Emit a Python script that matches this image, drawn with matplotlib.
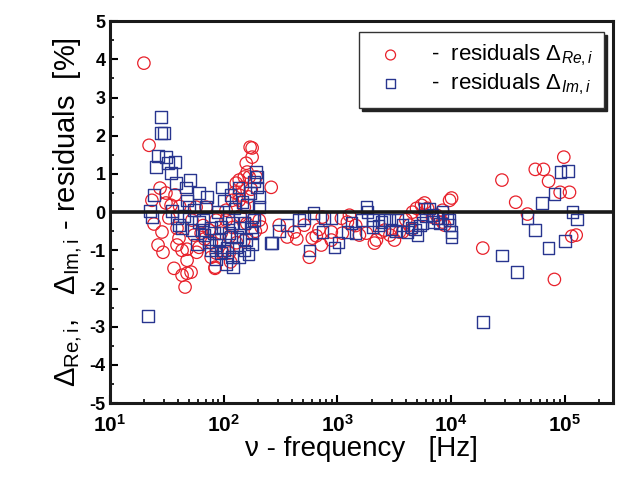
import matplotlib
matplotlib.use("Agg")
import matplotlib.pyplot as plt
from matplotlib.ticker import FixedLocator, MultipleLocator, LogLocator, NullFormatter

plt.rcParams['font.family'] = ['Liberation Sans', 'DejaVu Sans']
plt.rcParams['mathtext.fontset'] = 'custom'
plt.rcParams['mathtext.rm'] = 'Liberation Sans'
plt.rcParams['mathtext.it'] = 'Liberation Sans:italic'
plt.rcParams['mathtext.bf'] = 'Liberation Sans:bold'
plt.rcParams['axes.unicode_minus'] = False

# ---- data: residuals of real part (red circles) ----
freq_re = [19.9, 22.1, 27.6, 23.4, 24.4, 28.7, 26.5, 29.3, 31.1, 37.4, 31.1, 34.5, 38.9, 40.5, 38.9,
           43.1, 47.7, 36.6, 43.1, 47.7, 51.7, 45.8, 47.7, 60.8, 63.4, 55.0, 52.7, 57.3, 70.1, 74.5,
           85.9, 85.9, 77.6, 84.2, 105, 105, 112, 119, 129, 126, 137, 146, 158, 161, 171,
           178, 178, 168, 152, 137, 193, 214, 206, 262, 137, 152, 112, 84,
           66, 95, 120, 140, 150, 165, 175, 185, 190, 160, 130, 115, 98, 78, 68, 58, 33, 41,
           308, 418, 362, 512, 602, 653, 723, 885, 885, 1085, 1277, 1107, 1563, 1801, 2117,
           2443, 2596, 3177, 3517, 3740, 4307, 4580, 4966, 5496, 5847, 6210, 7450, 8414, 9700,
           10100, 7925, 8414, 8770, 6874, 5610, 2206, 567, 738, 1225,
           440, 690, 1450, 2900, 4000, 4500,
           19000, 28000, 37000, 47000, 55000, 65000, 72000, 81000, 91000, 98000, 110000, 115000, 126000]
res_re = [3.90, 1.75, 0.63, 0.31, -0.31, -0.52, -0.86, -1.05, 0.50, 0.45, 0.24, 0.18, -0.42, -0.68, -0.86,
          -1.00, -0.97, -1.47, -1.65, -1.60, -1.57, -1.96, -1.26, -0.92, -0.55, -0.60, -0.21, 0.13, 0.13, -0.47,
          -0.21, -1.07, -1.18, -1.44, -0.21, 0.05, -0.65, 0.31, 0.76, 0.52, 0.45, 0.65, 1.28, 1.05, 1.70,
          1.68, 1.44, 0.92, 0.92, 0.84, 0.92, -0.39, -0.21, 0.65, 0.31, 0.13, -1.07, -1.47,
          -0.35, -0.55, -0.40, -0.10, -0.75, 0.40, 0.60, -0.15, -0.50, -0.30, -0.80, -1.30, -1.05, -0.80, -0.70, -1.05, -0.15, 0.15,
          -0.34, -0.52, -0.65, -0.34, -0.68, -0.62, -0.86, -0.52, -0.73, -0.16, -0.08, -0.55, -0.60, -0.55, -0.81,
          -0.52, -0.47, -0.73, -0.52, -0.52, -0.34, 0.00, 0.10, 0.18, 0.24, 0.10, -0.08, 0.05, 0.31,
          0.37, -0.16, -0.26, -0.34, -0.13, -0.08, -0.73, -1.18, -0.13, -0.26,
          -0.70, -0.45, -0.35, -0.60, -0.20, -0.45,
          -0.94, 0.84, 0.26, -0.05, 1.12, 1.12, 0.81, -1.76, 0.52, 1.44, 0.52, -0.63, -0.60]

# ---- data: residuals of imaginary part (blue squares) ----
freq_im = [21.6, 28.1, 28.1, 29.9, 26.5, 25.4, 31.1, 32.4, 34.5, 37.4, 38.1, 46.7, 50.7, 24.4, 22.5,
           23.4, 35.2, 38.9, 40.5, 43.1, 47.7, 49.7, 60.8, 71.6, 70.1, 52.7, 60.8, 64.7, 77.6, 74.5,
           82.5, 85.9, 77.6, 95.1, 97.1, 101, 91.3, 95.1, 101, 107, 85.9, 112, 119, 116, 119,
           121, 129, 137, 131, 146, 152, 158, 175, 178, 178, 193, 197, 197, 206, 206, 186, 178, 152, 262,
           45, 55, 66, 88, 110, 125, 140, 160, 170, 185, 165, 105, 115, 135, 68, 58,
           267, 308, 362, 512, 462, 615, 567, 768, 738, 885, 941, 1020, 1225, 1329, 1441, 1627,
           1801, 1838, 2033, 2033, 2443, 2596, 2872, 3243, 3380, 3740, 4140, 5070, 5610, 5847, 6470,
           6874, 7600, 8414, 9310, 9700, 10100, 10100, 9700,
           4500, 4800, 5300, 6000, 7000, 8000, 2300, 3000,
           19000, 28000, 38000, 47000, 55000, 63000, 72000, 81000, 92000, 100000, 107000, 117000, 128000]
res_im = [-2.72, 2.49, 2.07, 2.07, 1.47, 1.18, 1.44, 1.28, 1.02, 1.31, 0.76, 0.65, 0.84, 0.45, 0.03,
          -0.13, 0.03, -0.16, -0.34, -0.42, 0.31, 0.13, 0.50, 0.39, 0.13, -0.47, -0.26, -0.47, -0.42, -0.79,
          -0.55, -0.86, -1.00, -0.39, 0.65, 0.31, -0.73, -1.07, -1.00, -0.92, -1.23, -0.55, -0.29, -0.65, -1.18,
          -1.44, -0.92, -1.18, -0.65, 0.26, -0.29, -0.73, -0.39, -0.13, -0.55, 1.05, 0.92, 0.65, 0.39, 0.13, -0.21, -0.84, -1.00, -0.81,
          -0.10, 0.05, -0.20, 0.00, -0.15, 0.10, -0.40, 0.20, 0.50, 0.80, -1.10, -1.35, 0.45, 0.65, -0.60, -0.85,
          -0.81, -0.50, -0.34, -0.16, -0.21, -0.03, -1.00, -0.16, -0.52, -0.16, -0.92, -0.79, -0.52, -0.29, -0.55, -0.21,
          0.13, 0.00, -0.39, -0.21, -0.26, -0.21, -0.21, -0.50, -0.21, -0.34, -0.52, -0.60, -0.29, 0.10, 0.10,
          -0.08, -0.16, 0.00, -0.16, -0.34, -0.52, -0.65, -0.21,
          -0.40, -0.45, -0.35, -0.10, -0.25, -0.30, -0.35, -0.45,
          -2.88, -1.13, -1.57, -0.16, -0.47, 0.24, -0.94, 0.47, 1.05, -0.76, 1.07, 0.00, -0.19]

x_decades = [1e1, 1e2, 1e3, 1e4, 1e5]
x_ticklabels = [r'$\mathbf{10}^{\mathbf{1}}$', r'$\mathbf{10}^{\mathbf{2}}$', r'$\mathbf{10}^{\mathbf{3}}$',
                r'$\mathbf{10}^{\mathbf{4}}$', r'$\mathbf{10}^{\mathbf{5}}$']
y_ticks = [-5, -4, -3, -2, -1, 0, 1, 2, 3, 4, 5]

red = '#e8202a'
blue = '#28358f'

fig = plt.figure(figsize=(6.21, 4.80), dpi=100)
ax = fig.add_axes([0.177, 0.160, 0.810, 0.796])

ax.scatter(freq_re, res_re, s=80, marker='o', facecolors='none', edgecolors=red, linewidths=0.9,
           label=r'-  residuals $\Delta_{\mathit{Re,i}}$', zorder=3)
ax.scatter(freq_im, res_im, s=70, marker='s', facecolors='none', edgecolors=blue, linewidths=1.0,
           label=r'-  residuals $\Delta_{\mathit{Im,i}}$', zorder=4)
ax.axhline(0, color='#1a1a1a', lw=2.6, zorder=5)

ax.set_xscale('log')
ax.set_xlim(10, 2.65e5)
ax.set_ylim(-5, 5)

ax.xaxis.set_major_locator(FixedLocator(x_decades))
ax.set_xticklabels(x_ticklabels, fontsize=15)
ax.xaxis.set_minor_locator(LogLocator(base=10, subs=[2, 3, 4, 5, 6, 7, 8, 9], numticks=20))
ax.xaxis.set_minor_formatter(NullFormatter())
ax.set_yticks(y_ticks)
ax.set_yticklabels([str(v) for v in y_ticks], fontsize=13, fontweight='bold')
ax.yaxis.set_minor_locator(MultipleLocator(0.5))

ax.tick_params(which='major', direction='in', length=6, width=1.5, top=False, right=False)
ax.tick_params(axis='x', which='major', pad=8)
ax.tick_params(axis='y', which='major', pad=3)
ax.tick_params(which='minor', direction='in', length=3, width=1.2, top=False, right=False)
for sp in ax.spines.values():
    sp.set_linewidth(2.2)
    sp.set_color('#1a1a1a')

ax.set_xlabel('\u03bd - frequency   [Hz]', fontsize=20, labelpad=0)
ax.set_ylabel(r'$\Delta_{\mathrm{Re,i}}$,   $\Delta_{\mathrm{Im,i}}$ - residuals  [%]', fontsize=21, labelpad=4)

leg = ax.legend(loc='upper right', bbox_to_anchor=(0.983, 0.972), fontsize=16, frameon=True,
                fancybox=False, shadow={'color': '#222222', 'alpha': 1.0}, handletextpad=0.9,
                borderpad=0.5, borderaxespad=0.0, labelspacing=0.15, markerscale=0.8,
                handlelength=1.8)
leg.get_frame().set_edgecolor('#333333')
leg.get_frame().set_linewidth(1.0)

fig.savefig('out.png', dpi=100)
